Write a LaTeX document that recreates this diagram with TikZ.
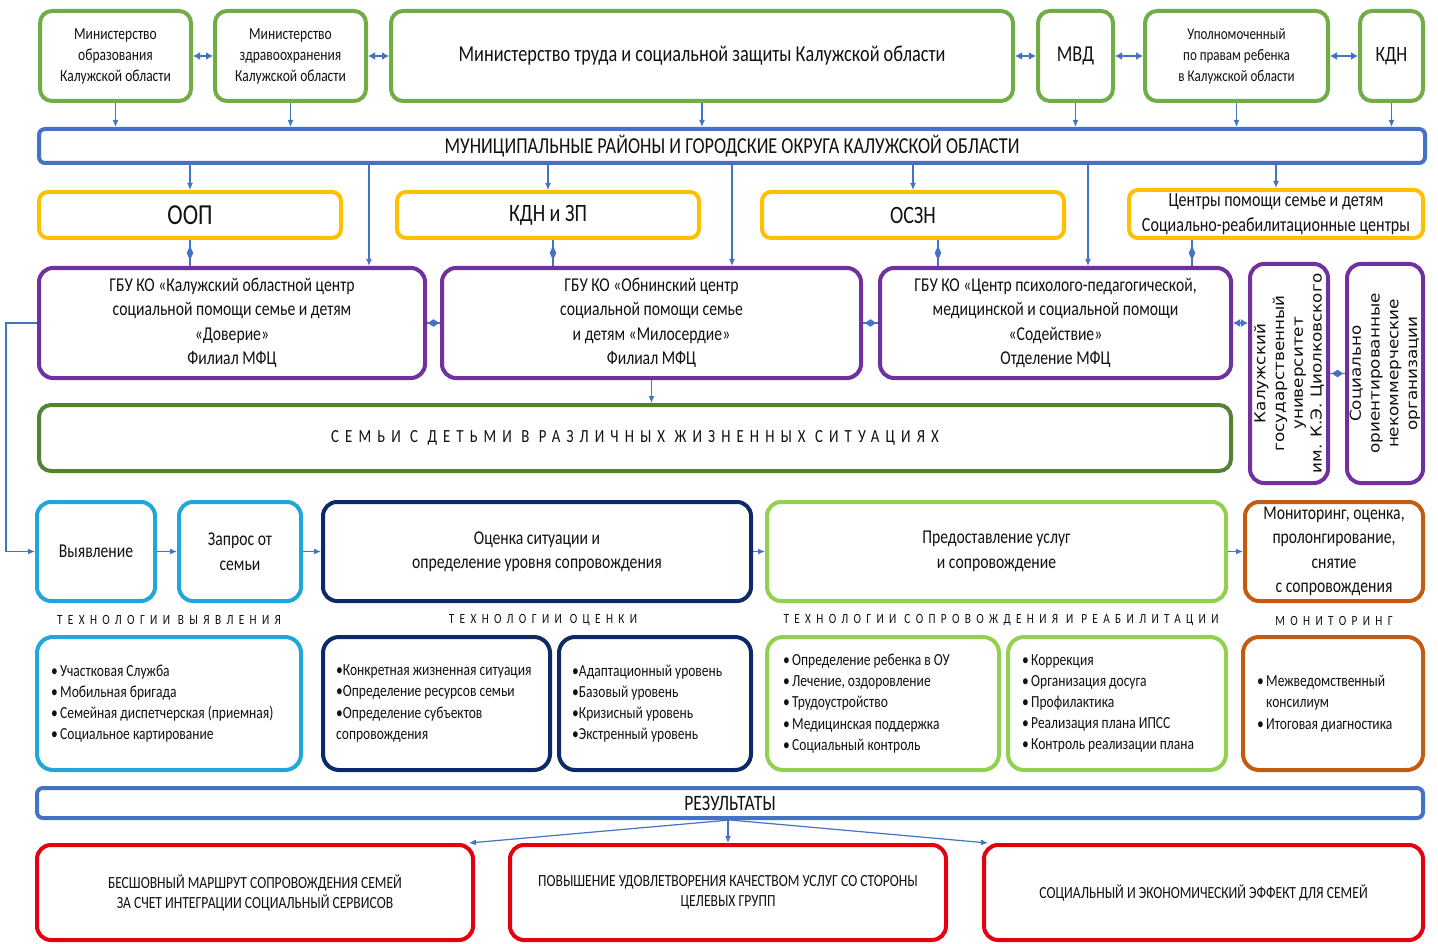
\documentclass[tikz,border=0pt]{standalone}
\usepackage{fontspec}
\setmainfont{Carlito}[FakeStretch=0.8]
\newfontfamily\spc{Carlito}[FakeStretch=0.8,LetterSpace=38]
\newfontfamily\spcb{Carlito}[FakeStretch=0.8,LetterSpace=33]
\newfontfamily\vfont{DejaVu Sans}[FakeStretch=1.12]
\usetikzlibrary{arrows.meta,shapes.geometric,calc}
\definecolor{cgreen}{HTML}{70AD47}
\definecolor{cblue}{HTML}{4472C4}
\definecolor{cyellow}{HTML}{FFC000}
\definecolor{cpurple}{HTML}{7030A0}
\definecolor{cdkgreen}{HTML}{548235}
\definecolor{ccyan}{HTML}{21A6DC}
\definecolor{cnavy}{HTML}{0E2A66}
\definecolor{clgreen}{HTML}{92D050}
\definecolor{corange}{HTML}{C55A11}
\definecolor{cred}{HTML}{E3000F}
\definecolor{txt}{HTML}{111111}
\newcommand\bl{\makebox[9pt][l]{•}}
\tikzset{
  box/.style={draw, line width=4pt, inner sep=0pt, align=center, text=txt, fill=white},
  topbox/.style={box, draw=cgreen, rounded corners=12pt, font=\fontsize{16.9}{21}\selectfont},
  barbox/.style={box, draw=cblue, rounded corners=6pt, font=\fontsize{22.8}{25}\selectfont},
  ybox/.style={box, draw=cyellow, rounded corners=9pt, font=\fontsize{25}{28}\selectfont},
  pbox/.style={box, draw=cpurple, rounded corners=14pt, font=\fontsize{19.6}{24.4}\selectfont},
  fambox/.style={box, draw=cdkgreen, rounded corners=12pt, font=\spcb\fontsize{18.5}{20}\selectfont},
  procbox/.style={box, rounded corners=14pt, font=\fontsize{19.6}{24.5}\selectfont},
  techbox/.style={box, rounded corners=16pt},
  listtxt/.style={inner sep=0pt, align=left, text=txt, font=\fontsize{16.9}{21.2}\selectfont},
  seclab/.style={inner sep=0pt, text=txt, font=\spc\fontsize{14.1}{15}\selectfont},
  resbox/.style={box, draw=cred, rounded corners=14pt, font=\fontsize{17}{20}\selectfont},
  conn/.style={draw=cblue, line width=1.2pt, -{Latex[length=7pt,width=6pt]}},
  dbl/.style={draw=cblue, line width=2pt, {Latex[length=7pt,width=8pt]}-{Latex[length=7pt,width=8pt]}},
  cline/.style={draw=cblue, line width=1.2pt},
  vdia/.style={diamond, fill=cblue, inner sep=0pt, minimum width=7pt, minimum height=15pt},
  hdia/.style={diamond, fill=cblue, inner sep=0pt, minimum width=12pt, minimum height=8pt}
}
\begin{document}
\begin{tikzpicture}[x=1pt,y=-1pt]
\useasboundingbox (0,0) rectangle (1438,944);
\fill[white] (0,0) rectangle (1438,944);

% ---- top row
\node[topbox, minimum width=151pt, minimum height=90pt] (obr) at (115.5,56) {Министерство\\образования\\Калужской области};
\node[topbox, minimum width=151pt, minimum height=90pt] (zdr) at (290.5,56) {Министерство\\здравоохранения\\Калужской области};
\node[topbox, minimum width=622pt, minimum height=90pt, font=\fontsize{22.8}{25}\selectfont] (trud) at (702,56) {Министерство труда и социальной защиты Калужской области};
\node[topbox, minimum width=75pt, minimum height=90pt, font=\fontsize{22.8}{25}\selectfont] (mvd) at (1075.5,56) {МВД};
\node[topbox, minimum width=183pt, minimum height=90pt, font=\fontsize{16.3}{21}\selectfont] (upol) at (1236.5,56) {Уполномоченный\\по правам ребенка\\в Калужской области};
\node[topbox, minimum width=63pt, minimum height=90pt, font=\fontsize{21.8}{25}\selectfont] (kdn) at (1391.5,56) {КДН};

\draw[dbl] (obr.east) -- (zdr.west);
\draw[dbl] (zdr.east) -- (trud.west);
\draw[dbl] (trud.east) -- (mvd.west);
\draw[dbl] (mvd.east) -- (upol.west);
\draw[dbl, line width=1.2pt] (upol.east) -- (kdn.west);

% ---- municipal bar
\node[barbox, minimum width=1386pt, minimum height=34pt] (mun) at (732,146) {МУНИЦИПАЛЬНЫЕ РАЙОНЫ И ГОРОДСКИЕ ОКРУГА КАЛУЖСКОЙ ОБЛАСТИ};
\foreach \n in {obr,zdr,trud,mvd,upol,kdn}{
  \draw[conn] (\n.south) -- (\n.south |- mun.north);
}

% ---- yellow row
\node[ybox, minimum width=302pt, minimum height=46pt, font=\fontsize{29}{30}\selectfont] (oop) at (190,215) {ООП};
\node[ybox, minimum width=302pt, minimum height=46pt] (kdnzp) at (548,215) {КДН и ЗП};
\node[ybox, minimum width=302pt, minimum height=46pt] (oszn) at (913,215) {ОСЗН};
\node[ybox, minimum width=294pt, minimum height=48pt, font=\fontsize{20.1}{25}\selectfont] (centr) at (1276,214) {Центры помощи семье и детям\\Социально-реабилитационные центры};
\foreach \n in {oop,kdnzp,oszn,centr}{
  \draw[conn] (\n.north |- mun.south) -- (\n.north);
}

% ---- purple row
\node[pbox, minimum width=386pt, minimum height=110pt] (p1) at (232,323) {ГБУ КО «Калужский областной центр\\социальной помощи семье и детям\\«Доверие»\\Филиал МФЦ};
\node[pbox, minimum width=419pt, minimum height=110pt] (p2) at (651.5,323) {ГБУ КО «Обнинский центр\\социальной помощи семье\\и детям «Милосердие»\\Филиал МФЦ};
\node[pbox, minimum width=351pt, minimum height=110pt] (p3) at (1055.5,323) {ГБУ КО «Центр психолого-педагогической,\\медицинской и социальной помощи\\«Содействие»\\Отделение МФЦ};
\node[pbox, rotate=90, minimum width=219pt, minimum height=78pt, font=\vfont\fontsize{15}{18.8}\selectfont] (kgu) at (1289,373.5) {Калужский\\государственный\\университет\\им. К.Э. Циолковского};
\node[pbox, rotate=90, minimum width=219pt, minimum height=76pt, font=\vfont\fontsize{15}{18.8}\selectfont] (sonko) at (1385,373.5) {Социально\\ориентированные\\некоммерческие\\организации};

% long arrows from municipal bar to purple boxes
\coordinate (xa) at (369,0);
\coordinate (xb) at (732,0);
\coordinate (xc) at (1088,0);
\draw[conn] (xa |- mun.south) -- (xa |- p1.north);
\draw[conn] (xb |- mun.south) -- (xb |- p2.north);
\draw[conn] (xc |- mun.south) -- (xc |- p3.north);

% diamond connectors yellow -> purple
\coordinate (xd) at (553,0);
\coordinate (xe) at (938,0);
\coordinate (xf) at (1192,0);
\draw[cline] (oop.south) -- node[vdia] (d1) {} (oop.south |- p1.north);
\draw[cline] (xd |- kdnzp.south) -- node[vdia] (d2) {} (xd |- p2.north);
\draw[cline] (xe |- oszn.south) -- node[vdia] (d3) {} (xe |- p3.north);
\draw[cline] (xf |- centr.south) -- node[vdia] (d4) {} (xf |- p3.north);

% horizontal connectors between purple boxes
\draw[cline] (p1.east) -- node[hdia] (d5) {} (p2.west);
\draw[cline] (p2.east) -- node[hdia] (d6) {} (p3.west);
\draw[dbl, line width=1.2pt] (p3.east) -- (p3.east -| kgu.north);
\draw[cline] (kgu.south) -- node[hdia] (d7) {} (sonko.north);

% ---- families bar
\node[fambox, minimum width=1192pt, minimum height=66pt] (fam) at (635,438) {СЕМЬИ С ДЕТЬМИ В РАЗЛИЧНЫХ ЖИЗНЕННЫХ СИТУАЦИЯХ};
\draw[conn] (p2.south) -- (p2.south |- fam.north);

% ---- process row
\node[procbox, draw=ccyan, minimum width=118pt, minimum height=99pt] (vyj) at (96,551.5) {Выявление};
\node[procbox, draw=ccyan, minimum width=122pt, minimum height=99pt] (zapr) at (240,551.5) {Запрос от\\семьи};
\node[procbox, draw=cnavy, minimum width=428pt, minimum height=99pt] (ocen) at (537,551.5) {Оценка ситуации и\\определение уровня сопровождения};
\node[procbox, draw=clgreen, minimum width=459pt, minimum height=99pt] (pred) at (996.5,551.5) {Предоставление услуг\\и сопровождение};
\node[procbox, draw=corange, minimum width=178pt, minimum height=99pt] (mon) at (1334,551.5) {Мониторинг, оценка,\\пролонгирование,\\снятие\\с сопровождения};

\draw[conn] (p1.west) -- ++(-31,0) |- (vyj.west);
\draw[conn] (vyj.east) -- (zapr.west);
\draw[conn] (zapr.east) -- (ocen.west);
\draw[conn] (ocen.east) -- (pred.west);
\draw[conn] (pred.east) -- (mon.west);

% ---- section labels
\node[seclab] (l1) at (169,620) {ТЕХНОЛОГИИ ВЫЯВЛЕНИЯ};
\node[seclab] (l2) at (543,620) {ТЕХНОЛОГИИ ОЦЕНКИ};
\node[seclab] (l3) at (1001,620) {ТЕХНОЛОГИИ СОПРОВОЖДЕНИЯ И РЕАБИЛИТАЦИИ};
\node[seclab] (l4) at (1334,621) {МОНИТОРИНГ};

% ---- technology boxes
\node[techbox, draw=ccyan, minimum width=264pt, minimum height=133pt] (t1) at (169,703.5) {};
\node[techbox, draw=cnavy, minimum width=227pt, minimum height=133pt] (t2) at (436.5,703.5) {};
\node[techbox, draw=cnavy, minimum width=192pt, minimum height=133pt] (t3) at (655,703.5) {};
\node[techbox, draw=clgreen, minimum width=232pt, minimum height=133pt] (t4) at (883,703.5) {};
\node[techbox, draw=clgreen, minimum width=218pt, minimum height=133pt] (t5) at (1117,703.5) {};
\node[techbox, draw=corange, minimum width=180pt, minimum height=133pt] (t6) at (1333,703.5) {};

\node[listtxt, anchor=west] (t1x) at ($(t1.west)+(16,0)$) {\bl Участковая Служба\\\bl Мобильная бригада\\\bl Семейная диспетчерская (приемная)\\\bl Социальное картирование};
\node[listtxt, anchor=west] (t2x) at ($(t2.west)+(15,0)$) {•Конкретная жизненная ситуация\\•Определение ресурсов семьи\\•Определение субъектов\\сопровождения};
\node[listtxt, anchor=west] (t3x) at ($(t3.west)+(15,0)$) {•Адаптационный уровень\\•Базовый уровень\\•Кризисный уровень\\•Экстренный уровень};
\node[listtxt, anchor=west] (t4x) at ($(t4.west)+(18,0)$) {\bl Определение ребенка в ОУ\\\bl Лечение, оздоровление\\\bl Трудоустройство\\\bl Медицинская поддержка\\\bl Социальный контроль};
\node[listtxt, anchor=west] (t5x) at ($(t5.west)+(16,0)$) {\bl Коррекция\\\bl Организация досуга\\\bl Профилактика\\\bl Реализация плана ИПСС\\\bl Контроль реализации плана};
\node[listtxt, anchor=west] (t6x) at ($(t6.west)+(16,0)$) {\bl Межведомственный\\\hspace*{9pt}консилиум\\\bl Итоговая диагностика};

% ---- results
\node[barbox, minimum width=1386pt, minimum height=30pt, font=\fontsize{22}{24}\selectfont] (res) at (730,803) {РЕЗУЛЬТАТЫ};
\node[resbox, minimum width=436pt, minimum height=95pt] (r1) at (255,892.5) {БЕСШОВНЫЙ МАРШРУТ СОПРОВОЖДЕНИЯ СЕМЕЙ\\ЗА СЧЕТ ИНТЕГРАЦИИ СОЦИАЛЬНЫЙ СЕРВИСОВ};
\node[resbox, minimum width=436pt, minimum height=95pt] (r2) at (728,892.5) {ПОВЫШЕНИЕ УДОВЛЕТВОРЕНИЯ КАЧЕСТВОМ УСЛУГ СО СТОРОНЫ\\ЦЕЛЕВЫХ ГРУПП};
\node[resbox, minimum width=439pt, minimum height=95pt] (r3) at (1203.5,892.5) {СОЦИАЛЬНЫЙ И ЭКОНОМИЧЕСКИЙ ЭФФЕКТ ДЛЯ СЕМЕЙ};

\draw[conn] (res.south) -- ($(r1.north east)+(-6,0)$);
\draw[conn] (res.south -| r2.north) -- (r2.north);
\draw[conn] (res.south) -- ($(r3.north west)+(6,0)$);
\end{tikzpicture}
\end{document}
